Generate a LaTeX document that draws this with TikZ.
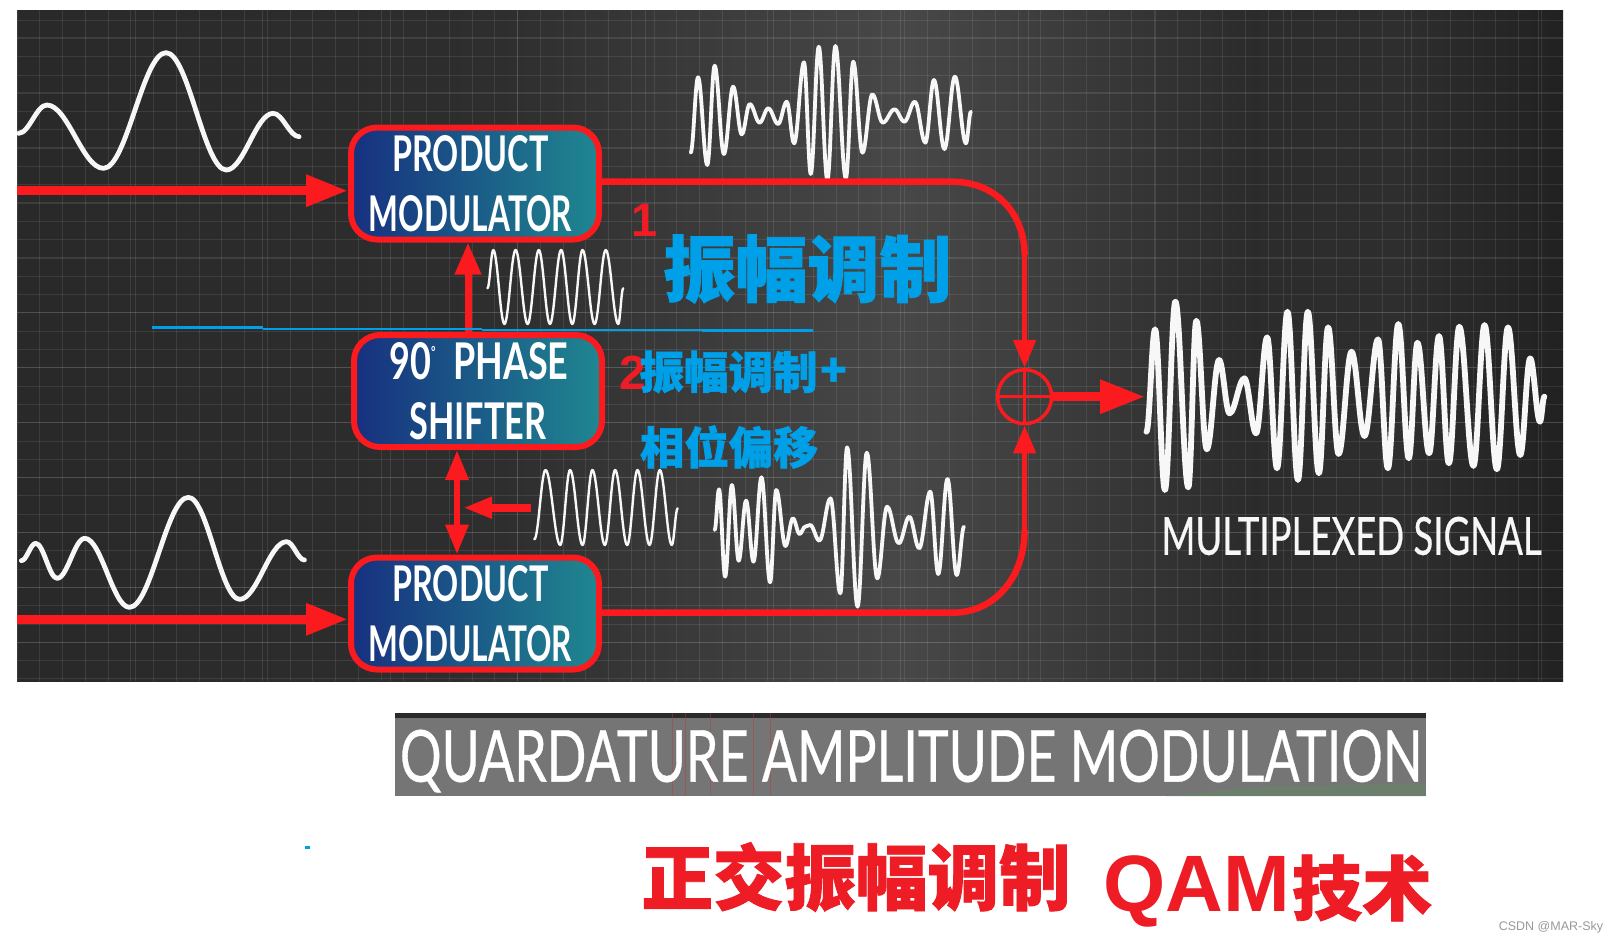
\documentclass[tikz,border=0pt]{standalone}
\usepackage{graphicx}
\usepackage{fontspec}
\usetikzlibrary{arrows.meta}
\setmainfont{Liberation Sans}
\newfontfamily\latf{Lato}
\newfontfamily\latm[FakeBold=0.6]{Lato}
\newfontfamily\cjkf[BoldFeatures={FakeBold=1.2}]{Noto Sans CJK SC}
\definecolor{wred}{HTML}{FB1A1E}
\definecolor{tred}{HTML}{EE1C25}
\definecolor{tblue}{HTML}{00A0E9}
\definecolor{bnavy}{HTML}{17307F}
\definecolor{bteal}{HTML}{1F8790}
\definecolor{bandgray}{HTML}{757575}
\pgfdeclarehorizontalshading{bgsh}{100bp}{
  color(0bp)=(black!84);color(25bp)=(black!84);color(40.6bp)=(black!82);
  color(53.6bp)=(black!72);color(58.1bp)=(black!76);color(64.9bp)=(black!83);
  color(69.7bp)=(black!82);color(75bp)=(black!87);color(100bp)=(black!87)}
\tikzset{
  wire/.style={draw=wred,line width=#1},
  modbox/.style={draw=wred,line width=6pt,rounded corners=26pt,left color=bnavy,right color=bteal,
    minimum width=248pt,minimum height=112pt,inner sep=0pt,align=center,text=white,
    font=\latf\bfseries\fontsize{30}{60}\selectfont},
  wavewide/.style={draw=white!97!black,line width=#1,line join=round,line cap=round},
  blueline/.style={draw=tblue,line width=2.4pt},
  cjkblue/.style={text=tblue,inner sep=0pt,font=\cjkf\bfseries\fontsize{#1}{#1}\selectfont},
  cjkred/.style={text=tred,inner sep=0pt,font=\cjkf\bfseries\fontsize{#1}{#1}\selectfont},
  numred/.style={text=tred,inner sep=0pt,font=\bfseries\fontsize{#1}{#1}\selectfont},
  zoomA/.style={shift={(0,#1)},xscale=0.4464,yscale=0.33333},
  zoomB/.style={shift={(650,#1)},xscale=0.6159,yscale=0.33333},
}
\newcommand\wavedraw[4]{\draw[wavewide=#1] (#2,#3) \foreach \x/\y [remember=\x as \lx (initially #2),remember=\y as \ly (initially #3)] in {#4} { .. controls ({\lx+0.37*(\x-\lx)},\ly) and ({\x-0.37*(\x-\lx)},\y) .. (\x,\y)};}
\newcommand\fitline[3]{\resizebox{#1pt}{#2pt}{#3}}
\newcommand\nudge{\hspace*{-9pt}}
\begin{document}
\begin{tikzpicture}[x=1pt,y=-1pt]
\useasboundingbox (0,0) rectangle (1616,943);
\fill[white] (0,0) rectangle (1616,943);
% background
\shade[shading=bgsh] (17,10) rectangle (1563,681);
\begin{scope}
\clip (17,10) rectangle (1563,681);
\foreach \k in {0,...,68} {\draw[white,opacity=.09,line width=.8pt] ({17+\k*22.75},10) -- ({17+\k*22.75},681);}
\foreach \k in {0,...,36} {\draw[white,opacity=.09,line width=.8pt] (17,{20+\k*18.3}) -- (1563,{20+\k*18.3});}
\foreach \k in {0,...,12} {\draw[white,opacity=.1,line width=1pt] ({7.5+\k*127.6},10) -- ({7.5+\k*127.6},681);}
\foreach \k in {0,...,12} {\draw[white,opacity=.1,line width=1pt] (17,{37+\k*55}) -- (1563,{37+\k*55});}
\end{scope}
% waves
\begin{scope}[zoomA=0]
\wavedraw{4.8pt}{42}{400}{105/315,232/505,372/158,507/510,612/340,670/410}
\wavedraw{2.4pt}{1092}{865}{1105/750,1130/972,1155/750,1182/972,1207/750,1232/972,1257/750,1282/972,1305/750,1332/972,1357/750,1385/972,1396/865}
\end{scope}
\begin{scope}[zoomA=330]
\wavedraw{4.8pt}{48}{692}{80/640,128/745,190/625,290/832,422/502,537/808,642/635,682/690}
\wavedraw{2.4pt}{1197}{628}{1222/420,1255/645,1277/420,1305/645,1327/420,1355/645,1378/420,1405/645,1428/420,1455/645,1478/420,1505/645,1518/535}
\end{scope}
\begin{scope}[zoomB=0]
\wavedraw{3.8pt}{66}{458}{78/232,93/495,105/197,120/462,135/260,149/403,162/312,178/368,192/325,208/372,222/305,234/430,250/187,261/522,274/140,288/540,301/138,318/535,330/185,345/458,361/283,378/368,397/328,413/365,430/305,447/428,461/240,478/447,495/230,513/430,521/335}
\end{scope}
\begin{scope}[zoomB=330]
\wavedraw{3.8pt}{105}{600}{112/478,122/740,133/465,144/692,156/512,168/695,181/442,195/757,205/480,220/648,232/565,243/612,252/590,260/585,275/632,293/505,309/790,320/352,337/830,352/368,369/745,385/530,404/640,421/560,437/655,455/485,468/732,483/447,498/735,510/590}
\wavedraw{5.8pt}{806}{305}{820/-2,836/480,853/-85,874/472,887/-28,904/358,924/90,941/250,965/145,984/310,1002/22,1018/415,1035/-55,1052/450,1068/-55,1086/430,1101/-8,1118/372,1139/65,1160/318,1182/28,1198/415,1215/-18,1232/385,1246/38,1265/370,1281/18,1297/400,1314/-10,1337/408,1355/-15,1375/418,1393/-8,1413/375,1429/85,1445/275,1452/200}
\end{scope}
% nodes
\node[modbox] (pm1) at (475,183.5) {\nudge\fitline{156}{36}{PRODUCT}\\\nudge\fitline{203}{36}{MODULATOR}};
\node[modbox] (ps) at (478,391) {\hspace*{2pt}\fitline{179}{37}{90{\fontsize{9}{9}\selectfont\raisebox{13pt}{°}}\ \ PHASE}\\\fitline{137}{37}{SHIFTER}};
\node[modbox] (pm2) at (475,613.5) {\nudge\fitline{156}{36}{PRODUCT}\\\nudge\fitline{203}{36}{MODULATOR}};
\node[circle,draw=wred,line width=3.5pt,minimum size=54pt,inner sep=0pt] (sum) at (1024.6,396.7) {};
% connectors
\coordinate (in1) at (17,190.7);
\coordinate (in2) at (17,619.3);
\coordinate (o1a) at (952,181.7);
\coordinate (o1b) at (1024.6,255);
\coordinate (o2a) at (952,612.7);
\coordinate (o2b) at (1024.6,530);
\coordinate (mux) at (1145,396.7);
\coordinate (car) at (531,507.7);
\coordinate (cartip) at (463,507.7);
\coordinate (upx) at (468,0);
\coordinate (dbx) at (457,0);
\draw[wire=9pt,-{Triangle[length=42pt,width=30pt]}] (in1) -- (pm1.west |- in1);
\draw[wire=9pt,-{Triangle[length=42pt,width=30pt]}] (in2) -- (pm2.west |- in2);
\draw[wire=6.5pt] (pm1.east |- o1a) -- (o1a) .. controls (997,181.7) and (1024.6,215) .. (o1b);
\draw[wire=5pt,-{Triangle[length=28pt,width=22pt]}] (o1b) -- (sum.north);
\draw[wire=6.5pt] (pm2.east |- o2a) -- (o2a) .. controls (997,612.7) and (1024.6,575) .. (o2b);
\draw[wire=5pt,-{Triangle[length=28pt,width=22pt]}] (o2b) -- (sum.south);
\draw[wire=9pt,-{Triangle[length=45pt,width=32pt]}] (sum.east) -- (mux);
\draw[wire=2.5pt] (sum.west) -- (sum.east);
\draw[wire=2.5pt] (sum.north) -- (sum.south);
\draw[wire=7pt,-{Triangle[length=32pt,width=25pt]}] (upx |- ps.north) -- (upx |- pm1.south);
\draw[wire=6.5pt,{Triangle[length=30pt,width=22pt]}-{Triangle[length=30pt,width=22pt]}] (dbx |- ps.south) -- (dbx |- pm2.north);
\draw[wire=8pt,-{Triangle[length=29pt,width=20pt]}] (car) -- (cartip);
% blue rule
\coordinate (b0) at (152,327.5); \coordinate (b1) at (263,327.5);
\coordinate (b2) at (263,328.7); \coordinate (b3) at (482,328.7);
\coordinate (b4) at (482,330); \coordinate (b5) at (702,330);
\coordinate (b6) at (702,330.6); \coordinate (b7) at (813,330.6);
\draw[blueline] (b0) -- (b1);
\draw[blueline] (b2) -- (b3);
\draw[blueline] (b4) -- (b5);
\draw[blueline] (b6) -- (b7);
\fill[tblue] (305,846) rectangle (310,848.5);
% labels
\node[numred=47,anchor=center] (n1) at (645,220) {1};
\node[numred=48,anchor=center] (n2) at (632.5,373) {2};
\node[cjkblue=72,anchor=center] (t1) at (807.5,269) {振幅调制};
\node[cjkblue=44.5,anchor=center] (t2) at (728.5,372) {振幅调制};
\node[cjkblue=43.5,anchor=center] (t2p) at (833.5,372) {+};
\node[cjkblue=44.5,anchor=center] (t3) at (729,447) {相位偏移};
\node[text=white!97!black,inner sep=0pt,font=\latm\fontsize{30}{30}\selectfont] (ml) at (1351.5,536) {\fitline{380}{38}{MULTIPLEXED SIGNAL}};
% title band
\fill[bandgray] (395,713) rectangle (1425.6,796);
\fill[black!83] (395,713) rectangle (1425.6,717.5);
\fill[green!10!bandgray,opacity=.7] (1166,796) -- (1260,786.7) -- (1425.6,783.3) -- (1425.6,796) -- cycle;
\foreach \gx in {672,685,710,753,770} {\draw[red!50!bandgray,opacity=.45,line width=.8pt] (\gx,713) -- (\gx,796);}
\node[text=white,inner sep=0pt,font=\latm\fontsize{30}{30}\selectfont] (qt) at (911,761) {\fitline{1022}{52}{QUARDATURE AMPLITUDE MODULATION}};
\node[cjkred=71.5,anchor=center] (zj) at (856,877) {正交振幅调制};
\node[numred=80,anchor=west] (qam) at (1103,891) {QAM};
\node[cjkred=70,anchor=center] (js) at (1362,888) {技术};
\node[text=black!40,inner sep=0pt,font=\fontsize{12.5}{12.5}\selectfont] (wm) at (1551,927) {CSDN @MAR-Sky};
\end{tikzpicture}
\end{document}
